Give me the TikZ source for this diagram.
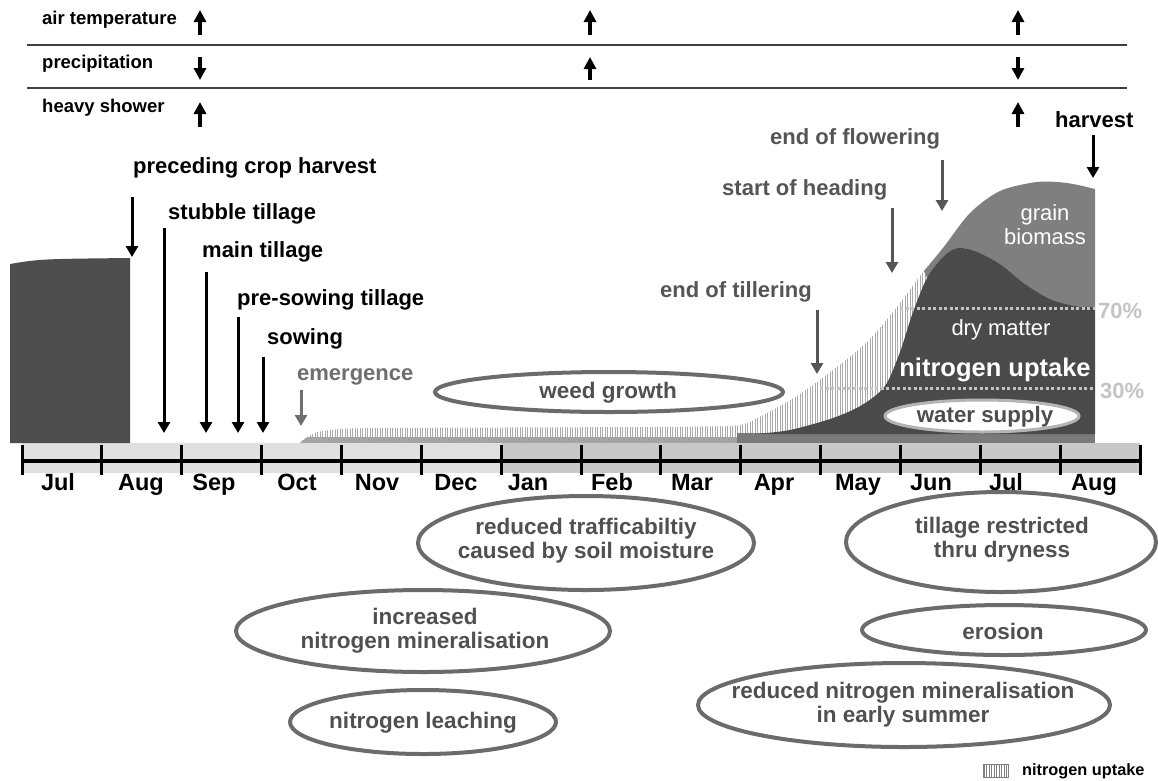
\documentclass[tikz,border=0pt]{standalone}
\usepackage{fontspec}
\setmainfont{Liberation Sans}
\usetikzlibrary{arrows.meta}
\definecolor{blockc}{HTML}{4D4D4D}
\definecolor{darkc}{HTML}{4A4A4A}
\definecolor{grainc}{HTML}{7F7F7F}
\definecolor{stripc}{HTML}{7A7A7A}
\definecolor{strip2c}{HTML}{A2A2A2}
\definecolor{bandl}{HTML}{E0E0E0}
\definecolor{bandd}{HTML}{C8C8C8}
\definecolor{stagec}{HTML}{555555}
\definecolor{emerc}{HTML}{6E6E6E}
\definecolor{ellc}{HTML}{6B6B6B}
\definecolor{elltx}{HTML}{505050}
\definecolor{pctc}{HTML}{C4C4C4}
\definecolor{hatchc}{HTML}{A8A8A8}
\definecolor{rulec}{HTML}{404040}
\definecolor{wsc}{HTML}{B4B4B4}
\begin{document}
\begin{tikzpicture}[x=1pt,y=-1pt,
  lbl/.style={font=\fontsize{22}{26}\selectfont\bfseries, inner sep=0pt, anchor=west},
  toplbl/.style={font=\fontsize{18.5}{22}\selectfont\bfseries, inner sep=0pt, anchor=west},
  stagelbl/.style={lbl, text=stagec},
  mon/.style={font=\fontsize{23.5}{26}\selectfont\bfseries, inner sep=0pt, anchor=base},
  ell/.style={draw=ellc, line width=4pt, fill=white},
  elltxt/.style={font=\fontsize{22.5}{24}\selectfont\bfseries, text=elltx, align=center, inner sep=0pt},
  whitetxt/.style={font=\fontsize{22}{24}\selectfont, text=white, align=center, inner sep=0pt},
  pctlbl/.style={font=\fontsize{22}{26}\selectfont\bfseries, text=pctc, inner sep=0pt, anchor=west},
  pctline/.style={draw=pctc, line width=3pt, dash pattern=on 3pt off 2.5pt},
  rule/.style={draw=rulec, line width=1.5pt},
  toparrow/.style={line width=3.5pt, -{Triangle[length=12pt,width=12pt]}},
  blkarrow/.style={line width=3pt, -{Triangle[length=11pt,width=12pt]}},
  grayarrow/.style={blkarrow, draw=stagec},
  hatchline/.style={draw=hatchc, line width=0.9pt},
  tick/.style={line width=3pt}
]
\useasboundingbox (0,0) rectangle (1158,780);

% ---------- top table ----------
\node[toplbl] (airT) at (42,20) {air temperature};
\node[toplbl] (prec) at (42,64) {precipitation};
\node[toplbl] (heavy) at (42,108) {heavy shower};
\coordinate (r1a) at (27,45); \coordinate (r1b) at (1127,45);
\coordinate (r2a) at (27,88); \coordinate (r2b) at (1127,88);
\draw[rule] (r1a) -- (r1b);
\draw[rule] (r2a) -- (r2b);
\foreach \nm/\x/\ys/\ye in {t11/200/35/10, t12/590/35/10, t13/1018/35/10,
                             t21/200/57/80, t22/590/80/57, t23/1018/57/80,
                             t31/200/127/102, t33/1018/127/102}{
  \coordinate (\nm s) at (\x,\ys); \coordinate (\nm e) at (\x,\ye);
  \draw[toparrow] (\nm s) -- (\nm e);
}

% ---------- timeline band ----------
\fill[bandl] (22,443) rectangle (502,473);
\fill[bandd] (502,443) rectangle (1140,473);
\coordinate (ax0) at (22,461); \coordinate (ax1) at (1140,461);
\draw[line width=3.5pt] (ax0) -- (ax1);
\foreach \i in {0,...,14} \draw[tick] ({22+79.857*\i},445) -- ({22+79.857*\i},475);
\foreach \m/\x/\k in {Jul/58/a, Aug/141/b, Sep/214/c, Oct/297/d, Nov/377/e, Dec/456/f, Jan/528/g,
                      Feb/612/h, Mar/692/i, Apr/774/j, May/858/k, Jun/931/l, Jul/1006/m, Aug/1094/n}
  \node[mon] (mon\k) at (\x,490) {\m};

% ---------- preceding crop block ----------
\fill[blockc] (10,443) -- (10,264) .. controls (40,259) .. (130,258) -- (130,443) -- cycle;

% ---------- hatched nitrogen uptake envelope ----------
\begin{scope}
  \clip plot[smooth, tension=0.5] coordinates {(300,443) (306,438) (318,432) (340,429) (380,428) (500,427.5) (650,427) (700,426.5) (740,425) (767,413) (800,394) (833,370) (867,342) (897,307) (923,272) (943,248) (970,213) (1000,191) (1037,182) (1067,183) (1095,189)} -- (1095,443) -- cycle;
  \fill[white] (290,170) rectangle (1100,443);
  \foreach \x in {300,302.5,...,945} \draw[hatchline] (\x,170) -- (\x,443);
  \fill[strip2c] (295,437) rectangle (740,443);
  \foreach \x in {300,302.5,...,740} \draw[hatchline] (\x,437) -- (\x,443);
\end{scope}
\fill[stripc] (737,433) rectangle (1095,443);

% grain biomass
\fill[grainc] plot[smooth, tension=0.5] coordinates {(924,271) (943,248) (970,213) (1000,191) (1037,182) (1067,183) (1095,189)}
  -- (1095,307)
  -- plot[smooth, tension=0.5] coordinates {(1095,307) (1075,306) (1050,299) (1025,284) (1000,264) (975,251) (958,248) (945,255) (927,278)} -- cycle;
% dry matter
\fill[darkc] plot[smooth, tension=0.5] coordinates {(755,434) (790,430) (833,418) (862,405) (885,386) (900,352) (912,315) (927,278) (945,255) (958,248) (975,251) (1000,264) (1025,284) (1050,299) (1075,306) (1095,307)}
  -- (1095,434) -- cycle;

% percentage lines
\coordinate (p70a) at (900,308); \coordinate (p70b) at (1095,308);
\coordinate (p30a) at (820,388); \coordinate (p30b) at (1095,388);
\draw[pctline] (p70a) -- (p70b);
\draw[pctline] (p30a) -- (p30b);
\node[pctlbl] (l70) at (1098,311) {70\%};
\node[pctlbl] (l30) at (1100,391) {30\%};

% texts in crop
\node[whitetxt] (grain) at (1045,225) {grain\\biomass};
\node[whitetxt] (dry) at (1001,330) {dry matter};
\node[whitetxt, font=\fontsize{25.5}{28}\selectfont\bfseries] (nup) at (995,370) {nitrogen uptake};
\draw[draw=wsc, line width=3pt, fill=white] (982,416) ellipse [x radius=97, y radius=16];
\node[elltxt, font=\fontsize{22.3}{24}\selectfont\bfseries, text=blockc] (ws) at (985,417) {water supply};

% ---------- management labels and arrows ----------
\node[lbl] (prech) at (133,168) {preceding crop harvest};
\node[lbl] (stub) at (168,214) {stubble tillage};
\node[lbl] (maint) at (202,252) {main tillage};
\node[lbl] (presow) at (237,300) {pre-sowing tillage};
\node[lbl] (sow) at (267,339) {sowing};
\node[lbl] (harv) at (1055,120) {harvest};
\foreach \nm/\x/\ys/\ye in {a1/132/197/257, a2/164/228/433, a3/206/272/433, a4/238/317/433, a5/263/357/433, a6/1093/135/178}{
  \coordinate (\nm s) at (\x,\ys); \coordinate (\nm e) at (\x,\ye);
  \draw[blkarrow] (\nm s) -- (\nm e);
}

% ---------- crop stages ----------
\node[lbl, text=emerc] (emer) at (297,377) {emergence};
\node[stagelbl] (till) at (660,292) {end of tillering};
\node[stagelbl] (head) at (722,190) {start of heading};
\node[stagelbl] (flow) at (770,139) {end of flowering};
\coordinate (g1s) at (301,390); \coordinate (g1e) at (301,426);
\draw[grayarrow, draw=emerc] (g1s) -- (g1e);
\foreach \nm/\x/\ys/\ye in {g2/817/310/374, g3/892/208/273, g4/942/160/211}{
  \coordinate (\nm s) at (\x,\ys); \coordinate (\nm e) at (\x,\ye);
  \draw[grayarrow] (\nm s) -- (\nm e);
}

% ---------- ellipses ----------
\draw[ell] (609,392) ellipse [x radius=174, y radius=20];
\node[elltxt] (weed) at (608,393) {weed growth};
\draw[ell] (586,543) ellipse [x radius=168, y radius=47];
\node[elltxt] (traf) at (586,541) {reduced trafficabiltiy\\caused by soil moisture};
\draw[ell] (423,631) ellipse [x radius=187, y radius=41];
\node[elltxt] (incr) at (425,631) {increased\\nitrogen mineralisation};
\draw[ell] (423,722) ellipse [x radius=133, y radius=32];
\node[elltxt] (leach) at (423,723) {nitrogen leaching};
\draw[ell] (1001,542) ellipse [x radius=155, y radius=50];
\node[elltxt] (dryn) at (1002,540) {tillage restricted\\thru dryness};
\draw[ell] (1004,630) ellipse [x radius=142, y radius=25];
\node[elltxt] (eros) at (1003,631) {erosion};
\draw[ell] (904,705) ellipse [x radius=206, y radius=42];
\node[elltxt] (redn) at (903,705) {reduced nitrogen mineralisation\\in early summer};

% ---------- legend ----------
\begin{scope}
  \clip (983,764) rectangle (1008,777);
  \fill[white] (983,764) rectangle (1008,777);
  \foreach \x in {984,986.5,...,1008} \draw[hatchline, draw=gray] (\x,764) -- (\x,777);
\end{scope}
\draw[draw=gray, line width=0.8pt] (983,764) rectangle (1008,777);
\node[font=\fontsize{16.3}{18}\selectfont\bfseries, inner sep=0pt, anchor=west] (leg) at (1022,771) {nitrogen uptake};
\end{tikzpicture}
\end{document}
